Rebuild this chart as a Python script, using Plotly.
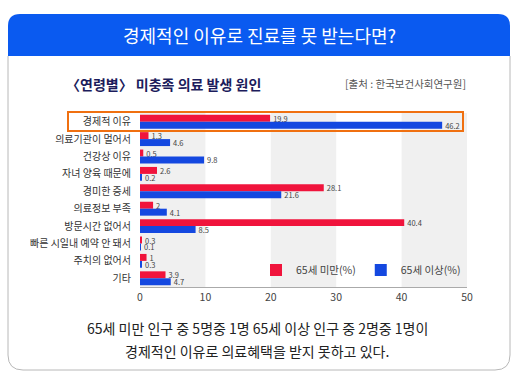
import plotly.graph_objects as go

categories = ["경제적 이유", "의료기관이 멀어서", "건강상 이유", "자녀 양육 때문에", "경미한 증세",
              "의료정보 부족", "방문시간 없어서", "빠른 시일내 예약 안 돼서", "주치의 없어서", "기타"]
under65 = [19.9, 1.3, 0.5, 2.6, 28.1, 2, 40.4, 0.3, 1, 3.9]
over65 = [46.2, 4.6, 9.8, 0.2, 21.6, 4.1, 8.5, 0.1, 0.3, 4.7]
series_names = ["65세 미만(%)", "65세 이상(%)"]
x_ticks = [0, 10, 20, 30, 40, 50]
bands = [(0, 10), (20, 30), (40, 50)]

title = "경제적인 이유로 진료를 못 받는다면?"
subtitle = "〈연령별〉 미충족 의료 발생 원인"
source = "[출처 : 한국보건사회연구원]"
footer = ["65세 미만 인구 중 5명중 1명 65세 이상 인구 중 2명중 1명이",
          "경제적인 이유로 의료혜택을 받지 못하고 있다."]

FONT = "Noto Sans CJK KR"
W, H = 521, 376
L, R, T, B = 140, 467, 113, 287


def px(x):
    return (x - L) / (R - L)


def py(y):
    return (B - y) / (B - T)


fig = go.Figure()
fig.add_trace(go.Bar(
    y=categories, x=under65, orientation="h", name=series_names[0],
    marker=dict(color="#f0143c", line=dict(width=0)),
    texttemplate="%{x}", textposition="outside", cliponaxis=False, constraintext="none",
    textfont=dict(size=7.5, color="#444", family=FONT),
))
fig.add_trace(go.Bar(
    y=categories, x=over65, orientation="h", name=series_names[1],
    marker=dict(color="#1448e0", line=dict(width=0)),
    texttemplate="%{x}", textposition="outside", cliponaxis=False, constraintext="none",
    textfont=dict(size=7.5, color="#444", family=FONT),
))

shapes = []
for a, b in bands:
    shapes.append(dict(type="rect", xref="x", yref="paper", x0=a, x1=b, y0=0, y1=1,
                       fillcolor="#f0f0f0", line=dict(width=0), layer="below"))

r = 12
header = (f"M {px(8)},{py(56)} L {px(8)},{py(14 + r)} Q {px(8)},{py(14)} {px(8 + r)},{py(14)} "
          f"L {px(510 - r)},{py(14)} Q {px(510)},{py(14)} {px(510)},{py(14 + r)} L {px(510)},{py(56)} Z")
shapes.append(dict(type="path", xref="paper", yref="paper", path=header,
                   fillcolor="#0a5af0", line=dict(width=0), layer="below"))
rb = 15
body = (f"M {px(8)},{py(56)} L {px(8)},{py(370 - rb)} Q {px(8)},{py(370)} {px(8 + rb)},{py(370)} "
        f"L {px(510 - rb)},{py(370)} Q {px(510)},{py(370)} {px(510)},{py(370 - rb)} L {px(510)},{py(56)}")
shapes.append(dict(type="path", xref="paper", yref="paper", path=body,
                   line=dict(color="#b8b8b8", width=1), layer="below"))
shapes.append(dict(type="rect", xref="paper", yref="paper", x0=px(68), x1=px(463), y0=py(131), y1=py(112),
                   line=dict(color="#f07010", width=2), fillcolor="rgba(0,0,0,0)", layer="above"))

annotations = [
    dict(text=title, x=px(259), y=py(35), xref="paper", yref="paper", showarrow=False,
         xanchor="center", yanchor="middle", font=dict(size=18, color="white", family=FONT)),
    dict(text="<b>" + subtitle + "</b>", x=px(64), y=py(84), xref="paper", yref="paper", showarrow=False,
         xanchor="left", yanchor="middle", font=dict(size=14, color="#1c1c5c", family=FONT)),
    dict(text=source, x=px(468), y=py(84), xref="paper", yref="paper", showarrow=False,
         xanchor="right", yanchor="middle", font=dict(size=10.5, color="#555", family=FONT)),
    dict(text=footer[0], x=px(257), y=py(328), xref="paper", yref="paper", showarrow=False,
         xanchor="center", yanchor="middle", font=dict(size=14, color="#222", family=FONT)),
    dict(text=footer[1], x=px(257), y=py(351), xref="paper", yref="paper", showarrow=False,
         xanchor="center", yanchor="middle", font=dict(size=14, color="#222", family=FONT)),
]

fig.update_layout(
    width=W, height=H,
    margin=dict(l=L, r=W - R, t=T, b=H - B, pad=0, autoexpand=False),
    paper_bgcolor="white", plot_bgcolor="white",
    barmode="group", bargap=0.2, bargroupgap=0,
    font=dict(family=FONT, color="#333"),
    shapes=shapes, annotations=annotations,
    legend=dict(orientation="h", x=px(256), y=py(270), xanchor="left", yanchor="middle",
                bgcolor="rgba(0,0,0,0)", font=dict(size=10.5, color="#444", family=FONT),
                traceorder="normal", itemwidth=30),
    xaxis=dict(range=[0, 50], tickvals=x_ticks, showgrid=False, zeroline=False,
               showline=True, linecolor="#aaa", linewidth=1, ticks="", automargin=False,
               tickfont=dict(size=10.5, color="#444", family=FONT)),
    yaxis=dict(autorange="reversed", showgrid=False, zeroline=False, showline=False, ticks="",
               automargin=False, ticklabelstandoff=8,
               tickfont=dict(size=10, color="#333", family=FONT)),
)

fig.write_html("out.html", config={"displayModeBar": False},
               post_script="document.body.style.margin='0';")
